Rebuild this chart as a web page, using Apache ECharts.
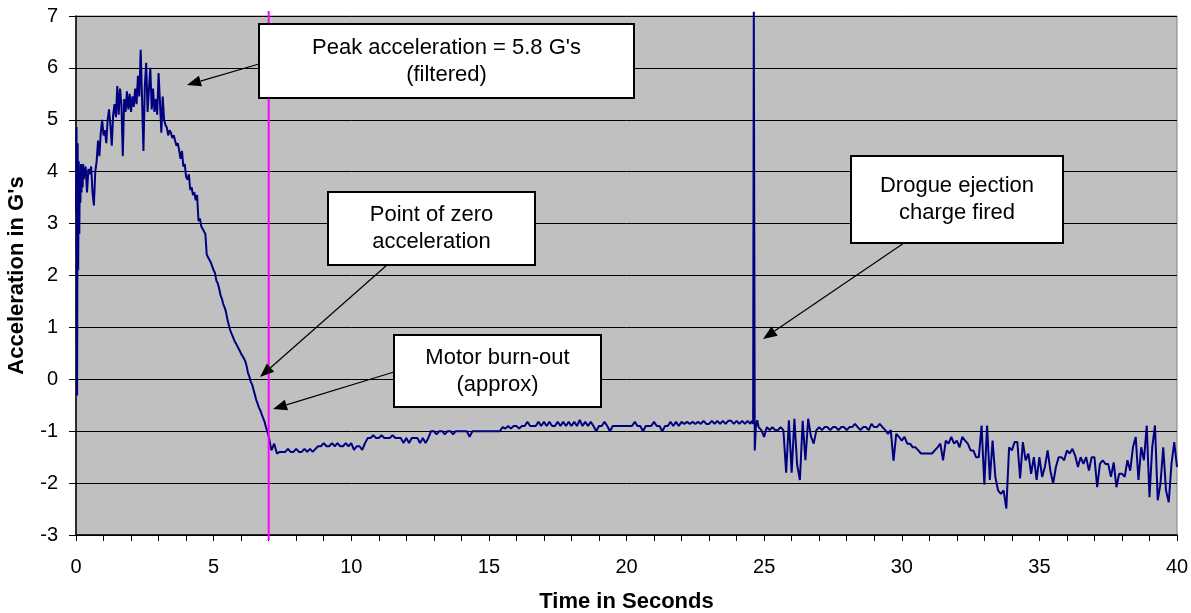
<!DOCTYPE html>
<html>
<head>
<meta charset="utf-8">
<title>Acceleration in G's</title>
<script src="https://cdn.jsdelivr.net/npm/echarts@6/dist/echarts.min.js"></script>
<style>
    html, body { margin: 0; padding: 0; background: #fff; }
    #chart { width: 1191px; height: 613px; }
</style>
</head>
<body>
<div id="chart"></div>
<script>
// accelerometer log, values in G's

// launch transient, one sample every 0.02 s from 0 s
const launchStart = 0;
const launchStep = 0.02;
const launchAccel = [3.20, 4.86, -0.31, 4.55, 2.10, 4.20, 2.80, 4.00, 3.40, 4.15, 3.60, 4.10, 3.70, 4.15, 3.85];

// motor burn, one sample every 0.05 s from 0.30 s
const boostStart = 0.30;
const boostStep = 0.05;
const boostAccel = [
    3.95, 4.10, 3.60, 4.05, 3.95, 4.10, 3.60, 3.35, 4.00, 4.20,
    4.60, 4.30, 4.75, 5.00, 4.70, 4.80, 4.55, 5.00, 5.20, 4.90,
    4.50, 5.10, 5.30, 5.05, 5.65, 5.10, 5.60, 5.30, 4.30, 5.40,
    5.15, 5.55, 5.20, 5.50, 5.15, 5.45, 5.25, 5.60, 5.30, 5.85,
    5.45, 6.35, 5.40, 4.40, 5.65, 6.10, 5.15, 5.60, 6.00, 5.20,
    5.60, 5.15, 5.40, 5.10, 5.90, 5.35, 4.75, 5.45, 5.00, 4.90,
    4.85, 4.70, 4.80, 4.75, 4.65, 4.70, 4.60, 4.50, 4.55, 4.40,
    4.25, 4.40, 4.10, 4.15, 3.90, 3.85, 3.95, 3.65, 3.70, 3.55,
    3.60, 3.45, 3.55, 3.05, 3.10, 2.95, 2.90, 2.85, 2.80, 2.40,
    2.40, 2.30, 2.25, 2.22, 2.10, 2.05, 1.90, 1.85, 1.75, 1.62,
    1.55, 1.45, 1.38, 1.30, 1.15, 1.05, 0.95, 0.88, 0.82, 0.75,
    0.70, 0.65, 0.60, 0.55, 0.49, 0.45, 0.40, 0.35, 0.25, 0.12,
    0.05, -0.05, -0.10, -0.20, -0.30, -0.40, -0.47, -0.55, -0.60, -0.68,
    -0.75, -0.82, -0.92, -1.00, -1.10
];

// coast to apogee, one sample every 0.1 s from 7.1 s
const coastStart = 7.1;
const coastStep = 0.1;
const coastAccel = [
    -1.37, -1.24, -1.43, -1.40, -1.40, -1.40, -1.34, -1.40, -1.40,
    -1.34, -1.40, -1.40, -1.34, -1.40, -1.34, -1.40, -1.34, -1.29, -1.29,
    -1.23, -1.29, -1.29, -1.23, -1.29, -1.23, -1.29, -1.29, -1.23, -1.29,
    -1.23, -1.36, -1.29, -1.29, -1.36, -1.23, -1.13, -1.13, -1.08, -1.13,
    -1.13, -1.08, -1.13, -1.13, -1.13, -1.08, -1.13, -1.13, -1.13, -1.23,
    -1.13, -1.23, -1.13, -1.13, -1.13, -1.23, -1.13, -1.23, -1.13, -1.00,
    -1.00, -1.06, -1.00, -1.00, -1.06, -1.00, -1.00, -1.06, -1.00, -1.00,
    -1.00, -1.00, -1.00, -1.11, -1.00, -1.00, -1.00, -1.00, -1.00, -1.00,
    -1.00, -1.00, -1.00, -1.00, -1.00, -0.92, -0.95, -0.90, -0.95, -0.90,
    -0.90, -0.95, -0.90, -0.90, -0.82, -0.90, -0.90, -0.90, -0.82, -0.90,
    -0.82, -0.90, -0.82, -0.90, -0.90, -0.82, -0.90, -0.82, -0.90, -0.82,
    -0.90, -0.82, -0.90, -0.78, -0.90, -0.82, -0.90, -0.82, -0.90, -1.00,
    -0.90, -0.90, -0.82, -0.90, -1.00, -0.90, -0.90, -0.90, -0.90, -0.90,
    -0.90, -0.90, -0.90, -0.82, -0.90, -0.90, -1.00, -0.90, -0.90, -0.90,
    -0.82, -0.90, -0.90, -1.00, -0.90, -0.90, -0.82, -0.90, -0.82, -0.90,
    -0.82, -0.86, -0.82, -0.86, -0.82, -0.86, -0.82, -0.86, -0.80, -0.86,
    -0.86, -0.80, -0.86, -0.80, -0.86, -0.80, -0.86, -0.80, -0.80, -0.86,
    -0.80, -0.86, -0.80, -0.86, -0.80, -0.86
];

// drogue ejection charge
const ejectTime = [24.55, 24.60, 24.625, 24.66, 24.70, 24.75, 24.80];
const ejectAccel = [-0.80, -0.86, 7.08, -1.37, -0.92, -0.79, -0.92];

// descent under drogue, one sample every 0.1 s from 24.9 s
const descentStart = 24.9;
const descentStep = 0.1;
const descentAccel = [
    -0.98,
    -1.11, -0.92, -0.98, -0.92, -0.98, -0.98, -0.92, -0.98, -1.80, -0.79,
    -1.80, -0.76, -1.65, -1.94, -0.80, -1.56, -0.76, -1.10, -1.24, -0.98,
    -0.92, -0.98, -0.92, -0.92, -0.98, -0.92, -0.92, -0.98, -0.92, -0.92,
    -0.98, -0.92, -0.92, -0.86, -0.92, -0.98, -0.92, -0.92, -0.98, -0.86,
    -0.92, -0.92, -0.86, -0.92, -0.98, -1.05, -0.98, -1.57, -1.05, -1.11,
    -1.18, -1.11, -1.24, -1.24, -1.31, -1.31, -1.37, -1.43, -1.43, -1.43,
    -1.43, -1.43, -1.37, -1.31, -1.24, -1.56, -1.18, -1.24, -1.11, -1.24,
    -1.18, -1.31, -1.11, -1.18, -1.24, -1.37, -1.37, -1.50, -1.50, -0.89,
    -2.03, -0.89, -1.94, -1.18, -1.88, -2.14, -2.21, -2.14, -2.49, -1.31,
    -1.37, -1.21, -1.21, -1.91, -1.21, -1.56, -1.43, -1.82, -1.50, -1.94,
    -1.50, -1.88, -1.69, -1.37, -1.76, -2.01, -1.69, -1.50, -1.50, -1.56,
    -1.37, -1.43, -1.34, -1.47, -1.69, -1.50, -1.63, -1.50, -1.76, -1.50,
    -1.50, -2.08, -1.63, -1.56, -1.63, -1.63, -1.88, -1.60, -2.08, -1.82,
    -1.82, -1.88, -1.56, -1.76, -1.31, -1.11, -1.94, -1.31, -1.56, -0.89,
    -2.27, -1.31, -0.89, -2.33, -2.01, -1.31, -2.14, -2.37, -1.63, -1.21,
    -1.69
];

const burnoutTime = 7;

// annotation callouts: text, box [x, y, w, h], arrow [from x, from y, to x, to y]
const notes = [
    { text: "Peak acceleration = 5.8 G's\n(filtered)", box: [259, 24, 375, 74], arrow: [259, 64, 187, 85] },
    { text: "Point of zero\nacceleration", box: [328, 192, 207, 73], arrow: [387, 265, 260, 377] },
    { text: "Motor burn-out\n(approx)", box: [394, 335, 207, 72], arrow: [394, 372, 273, 409] },
    { text: "Drogue ejection\ncharge fired", box: [851, 156, 212, 87], arrow: [904, 243, 763, 339] }
];

const FONT = "'Liberation Sans', Arial, sans-serif";

function sampled(start, step, values) {
    return values.map((v, i) => [+(start + i * step).toFixed(3), v]);
}

const flightData = [].concat(
    sampled(launchStart, launchStep, launchAccel),
    sampled(boostStart, boostStep, boostAccel),
    sampled(coastStart, coastStep, coastAccel),
    ejectTime.map((t, i) => [t, ejectAccel[i]]),
    sampled(descentStart, descentStep, descentAccel)
);

const chart = echarts.init(document.getElementById("chart"));
chart.setOption({
    animation: false,
    backgroundColor: "#fff",
    grid: {
        left: 76, right: 14, top: 16, bottom: 78,
        containLabel: false, outerBoundsMode: "none",
        show: true, backgroundColor: "#c0c0c0", borderColor: "#808080", borderWidth: 1
    },
    xAxis: {
        type: "value", min: 0, max: 40, interval: 5,
        name: "Time in Seconds", nameLocation: "middle", nameGap: 56,
        nameTextStyle: { fontFamily: FONT, fontSize: 22, fontWeight: "bold", color: "#000" },
        axisLine: { onZero: false, lineStyle: { color: "#000", width: 1.5 } },
        axisTick: { show: true, inside: false, length: 6, lineStyle: { color: "#000" } },
        minorTick: { show: true, splitNumber: 5, length: 6, lineStyle: { color: "#000" } },
        axisLabel: { fontFamily: FONT, fontSize: 20, color: "#000", margin: 22 },
        splitLine: { show: false }
    },
    yAxis: {
        type: "value", min: -3, max: 7, interval: 1,
        name: "Acceleration in G's", nameLocation: "middle", nameGap: 48, nameRotate: 90,
        nameTextStyle: { fontFamily: FONT, fontSize: 22, fontWeight: "bold", color: "#000" },
        axisLine: { show: true, onZero: false, lineStyle: { color: "#000", width: 1.5 } },
        axisTick: { show: true, inside: false, length: 7, lineStyle: { color: "#000" } },
        axisLabel: { fontFamily: FONT, fontSize: 20, color: "#000", margin: 18 },
        splitLine: { show: true, lineStyle: { color: "#000", width: 1 } }
    },
    series: [{
        name: "Acceleration",
        type: "line",
        data: flightData,
        showSymbol: false,
        clip: false,
        lineStyle: { color: "#000080", width: 2 },
        z: 3
    }]
});

// burn-out marker and callouts
const graphics = [];
const bx = chart.convertToPixel({ xAxisIndex: 0 }, burnoutTime);
graphics.push({
    type: "line", z: 50,
    shape: { x1: bx, y1: 11, x2: bx, y2: 540 },
    style: { stroke: "#ff00ff", lineWidth: 2 }
});

notes.forEach(n => {
    const [x1, y1, x2, y2] = n.arrow;
    const ang = Math.atan2(y2 - y1, x2 - x1);
    const len = 14, half = 5.5;
    const cx = x2 - len * Math.cos(ang), cy = y2 - len * Math.sin(ang);
    graphics.push({
        type: "line", z: 60,
        shape: { x1: x1, y1: y1, x2: cx, y2: cy },
        style: { stroke: "#000", lineWidth: 1.2 }
    });
    graphics.push({
        type: "polygon", z: 60,
        shape: { points: [[x2, y2], [cx + half * Math.sin(ang), cy - half * Math.cos(ang)], [cx - half * Math.sin(ang), cy + half * Math.cos(ang)]] },
        style: { fill: "#000" }
    });
    const [rx, ry, rw, rh] = n.box;
    graphics.push({
        type: "rect", z: 70,
        shape: { x: rx, y: ry, width: rw, height: rh },
        style: { fill: "#fff", stroke: "#000", lineWidth: 2 }
    });
    graphics.push({
        type: "text", z: 71,
        style: {
            text: n.text, x: rx + rw / 2, y: ry + rh / 2,
            align: "center", verticalAlign: "middle",
            fontFamily: FONT, fontSize: 22, lineHeight: 27, fill: "#000"
        }
    });
});

chart.setOption({ graphic: graphics });
window.addEventListener("resize", () => chart.resize());
</script>
</body>
</html>
